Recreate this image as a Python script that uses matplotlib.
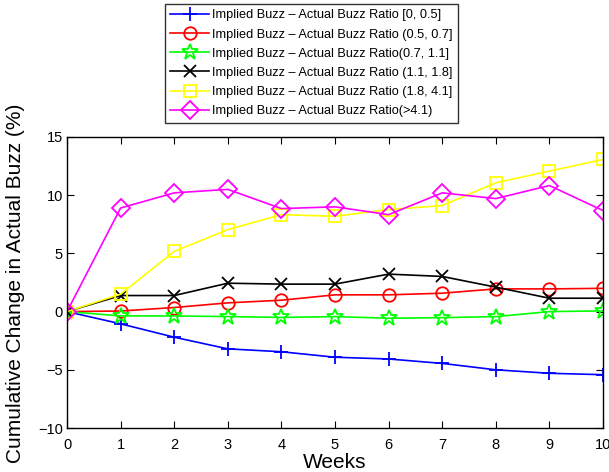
import numpy as np
import matplotlib
matplotlib.use('Agg')
import matplotlib.pyplot as plt

plt.rcParams['font.family'] = ['Liberation Sans', 'DejaVu Sans']

weeks = np.arange(0, 11)

# cumulative change in actual buzz (%) per group
r_0_05 = [0, -1.05, -2.2, -3.2, -3.45, -3.92, -4.07, -4.45, -5.0, -5.3, -5.42]
r_05_07 = [0, 0.05, 0.35, 0.75, 0.98, 1.44, 1.44, 1.58, 1.95, 1.95, 2.0]
r_07_11 = [0, -0.37, -0.37, -0.43, -0.5, -0.43, -0.57, -0.52, -0.43, 0.0, 0.06]
r_11_18 = [0, 1.38, 1.38, 2.44, 2.36, 2.36, 3.22, 3.02, 2.1, 1.15, 1.15]
r_18_41 = [0, 1.5, 5.17, 7.04, 8.33, 8.19, 8.76, 9.11, 11.06, 12.07, 13.07]
r_41 = [0, 8.9, 10.2, 10.5, 8.85, 9.0, 8.33, 10.2, 9.71, 10.83, 8.68]

labels = ['Implied Buzz \u2013 Actual Buzz Ratio [0, 0.5]',
          'Implied Buzz \u2013 Actual Buzz Ratio (0.5, 0.7]',
          'Implied Buzz \u2013 Actual Buzz Ratio(0.7, 1.1]',
          'Implied Buzz \u2013 Actual Buzz Ratio (1.1, 1.8]',
          'Implied Buzz \u2013 Actual Buzz Ratio (1.8, 4.1]',
          'Implied Buzz \u2013 Actual Buzz Ratio(>4.1)']

fig = plt.figure(figsize=(6.09, 4.72), dpi=100)
ax = fig.add_axes([67 / 609, 1 - 428 / 472, 536 / 609, 291 / 472])

lw = 1.2
ax.plot(weeks, r_0_05, color='#0000ff', marker='+', ms=10, mew=1.3, lw=lw, label=labels[0])
ax.plot(weeks, r_05_07, color='#ff0000', marker='o', ms=9, mfc='none', mew=1.3, lw=lw, label=labels[1])
ax.plot(weeks, r_07_11, color='#00ff00', marker='*', ms=12, mfc='none', mew=1.3, lw=lw, label=labels[2])
ax.plot(weeks, r_11_18, color='#000000', marker='x', ms=8, mew=1.3, lw=lw, label=labels[3])
ax.plot(weeks, r_18_41, color='#ffff00', marker='s', ms=8, mfc='none', mew=1.3, lw=lw, label=labels[4])
ax.plot(weeks, r_41, color='#ff00ff', marker='D', ms=9, mfc='none', mew=1.3, lw=lw, label=labels[5])

ax.set_xlim(0, 10)
ax.set_ylim(-10, 15)
ax.set_xticks(range(0, 11))
ax.set_yticks(range(-10, 16, 5))
ax.tick_params(direction='in', top=True, right=True, labelsize=10.5, length=5)
ax.tick_params(axis='x', pad=7)
ax.tick_params(axis='y', pad=3)
for s in ax.spines.values():
    s.set_linewidth(1.0)

ax.set_xlabel('Weeks', fontsize=15, labelpad=1)
ax.set_ylabel('Cumulative Change in Actual Buzz (%)', fontsize=15)
ax.yaxis.set_label_coords(-0.078, 0.497)

leg = fig.legend(loc='upper left', bbox_to_anchor=(165 / 609, 1 - 4 / 472),
                 fontsize=9.2, frameon=True, fancybox=False, edgecolor='black',
                 handlelength=3.0, labelspacing=0.56, borderpad=0.42,
                 handletextpad=0.25, borderaxespad=0)
leg.get_frame().set_linewidth(1.0)

fig.savefig('out.png', dpi=100)
